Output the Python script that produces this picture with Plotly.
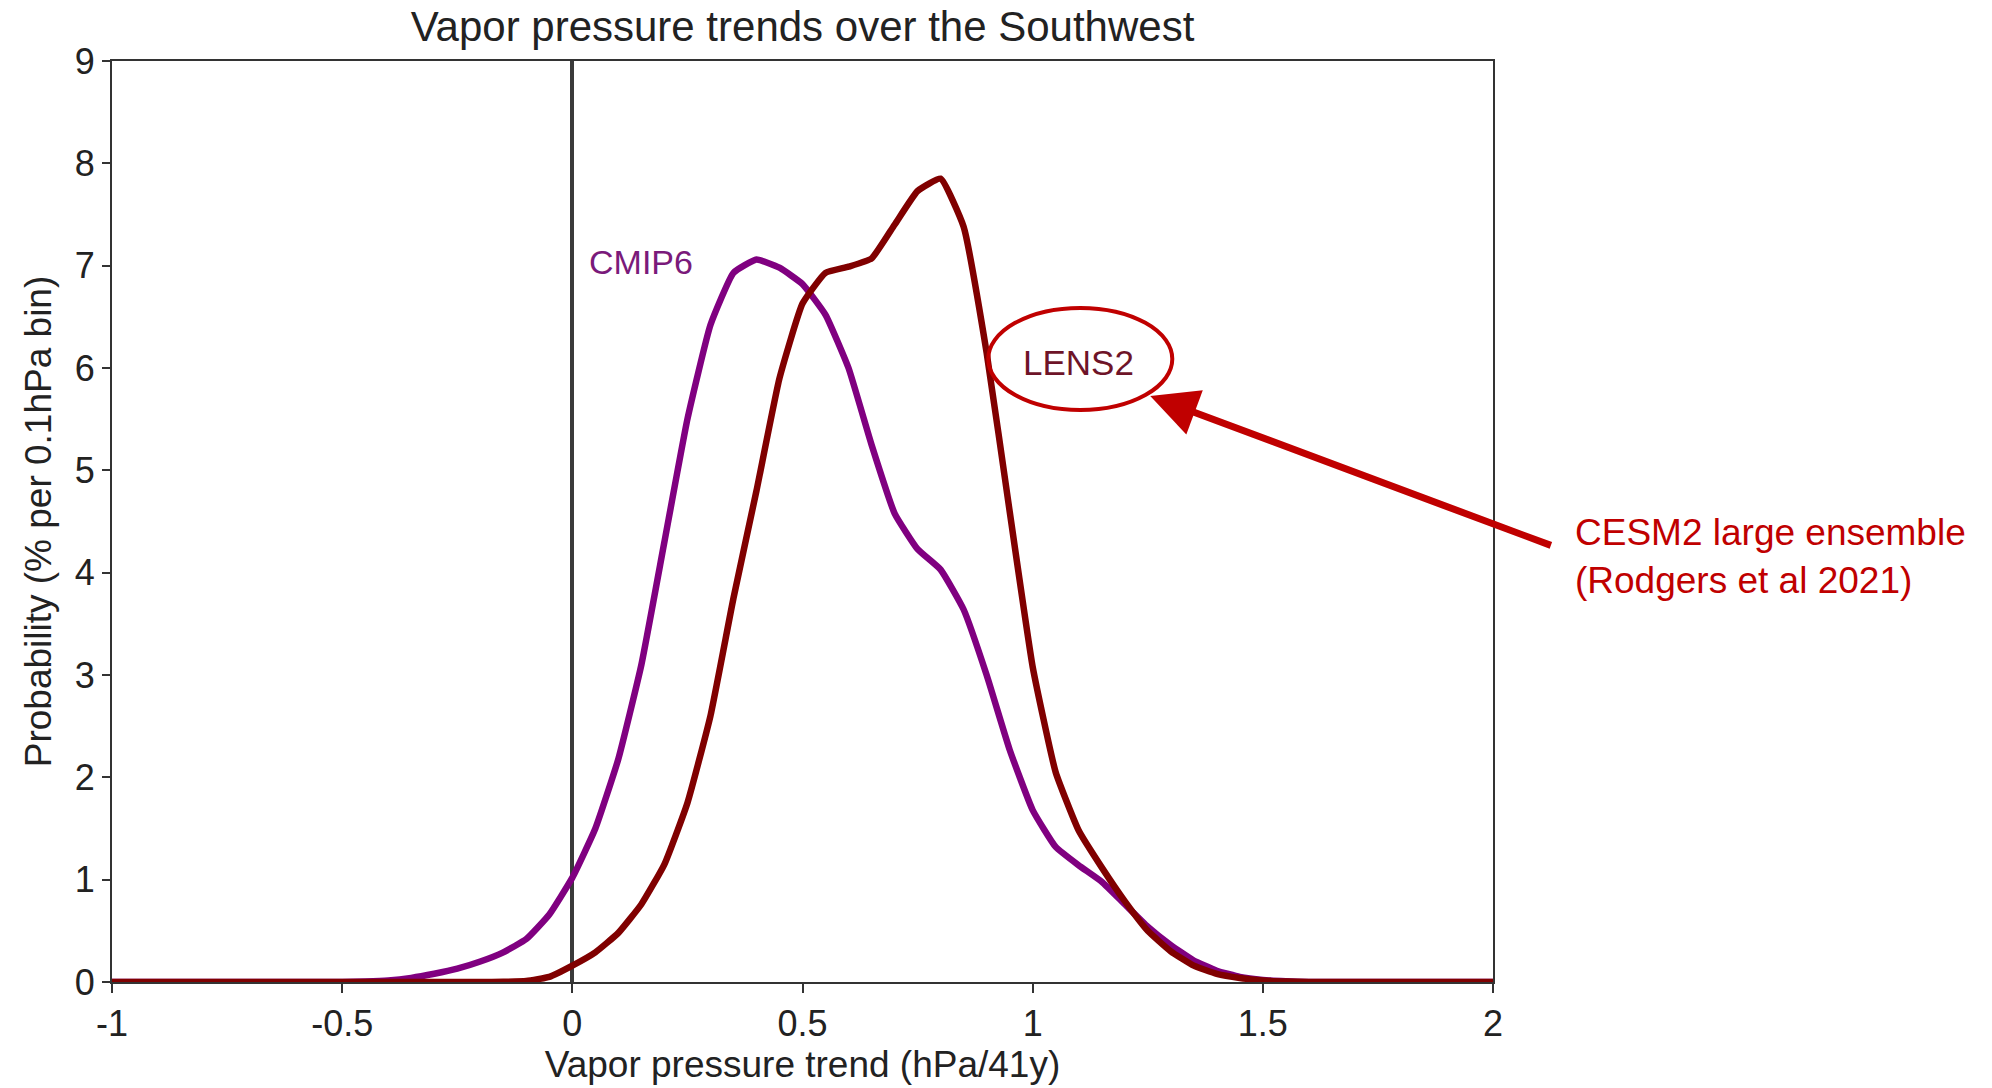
import plotly.graph_objects as go

# Bin centres (hPa/41y)
trend_bins = [-1.00, -0.95, -0.90, -0.85, -0.80, -0.75, -0.70, -0.65, -0.60, -0.55,
              -0.50, -0.45, -0.40, -0.35, -0.30, -0.25, -0.20, -0.15, -0.10, -0.05,
              0.00, 0.05, 0.10, 0.15, 0.20, 0.25, 0.30, 0.35, 0.40, 0.45,
              0.50, 0.55, 0.60, 0.65, 0.70, 0.75, 0.80, 0.85, 0.90, 0.95,
              1.00, 1.05, 1.10, 1.15, 1.20, 1.25, 1.30, 1.35, 1.40, 1.45,
              1.50, 1.55, 1.60, 1.65, 1.70, 1.75, 1.80, 1.85, 1.90, 1.95, 2.00]

cmip6_prob = [0, 0, 0, 0, 0, 0, 0, 0, 0, 0,
              0, 0.005, 0.015, 0.04, 0.08, 0.13, 0.20, 0.29, 0.42, 0.66,
              1.02, 1.50, 2.18, 3.10, 4.30, 5.50, 6.42, 6.93, 7.06, 6.98,
              6.82, 6.52, 6.00, 5.25, 4.58, 4.23, 4.03, 3.64, 3.00, 2.27,
              1.68, 1.32, 1.14, 0.98, 0.76, 0.54, 0.36, 0.21, 0.11, 0.05,
              0.02, 0.008, 0, 0, 0, 0, 0, 0, 0, 0, 0]

lens2_prob = [0, 0, 0, 0, 0, 0, 0, 0, 0, 0,
              0, 0, 0, 0, 0, 0, 0, 0.002, 0.01, 0.05,
              0.16, 0.29, 0.48, 0.76, 1.15, 1.75, 2.60, 3.75, 4.80, 5.90,
              6.63, 6.93, 6.99, 7.07, 7.40, 7.73, 7.85, 7.38, 6.15, 4.60,
              3.08, 2.05, 1.48, 1.12, 0.79, 0.50, 0.30, 0.16, 0.08, 0.04,
              0.015, 0.005, 0, 0, 0, 0, 0, 0, 0, 0, 0]

x_tick_vals = [-1, -0.5, 0, 0.5, 1, 1.5, 2]
x_tick_text = ["-1", "-0.5", "0", "0.5", "1", "1.5", "2"]
y_tick_vals = [0, 1, 2, 3, 4, 5, 6, 7, 8, 9]

FONT = "Liberation Sans, Arial, sans-serif"
PURPLE = "#800080"
MAROON = "#800000"
RED = "#c00000"

fig = go.Figure()
fig.add_trace(go.Scatter(x=trend_bins, y=cmip6_prob, mode="lines", name="CMIP6",
                         line=dict(color=PURPLE, width=6.5, shape="spline", smoothing=0.4),
                         cliponaxis=False))
fig.add_trace(go.Scatter(x=trend_bins, y=lens2_prob, mode="lines", name="LENS2",
                         line=dict(color=MAROON, width=6.5, shape="spline", smoothing=0.4),
                         cliponaxis=False))

# LENS2 highlight ellipse
fig.add_shape(type="circle", xref="x", yref="y", x0=0.9035, x1=1.3033, y0=5.59, y1=6.587,
              line=dict(color=RED, width=4), layer="above")

fig.add_annotation(x=0.15, y=7.036, xref="x", yref="y", text="CMIP6", showarrow=False,
                   font=dict(family=FONT, size=34, color="#7a1a7a"))
fig.add_annotation(x=1.099, y=6.049, xref="x", yref="y", text="LENS2", showarrow=False,
                   font=dict(family=FONT, size=35, color="#6e1428"))

# Arrow
fig.add_annotation(x=1.2555, y=5.727, xref="x", yref="y", ax=2.129, ay=4.261,
                   axref="x", ayref="y", text="", showarrow=True,
                   arrowhead=2, arrowsize=1.35, arrowwidth=7, arrowcolor=RED)
fig.add_annotation(x=1.058, y=0.4625, xref="paper", yref="paper", xanchor="left",
                   yanchor="middle", align="left", showarrow=False,
                   text="CESM2 large ensemble<br>(Rodgers et al 2021)",
                   font=dict(family=FONT, size=37, color=RED))

fig.update_layout(
    width=1992, height=1088,
    margin=dict(l=112, r=499, t=61, b=106),
    paper_bgcolor="white", plot_bgcolor="white",
    showlegend=False,
    font=dict(family=FONT, color="#222222"),
    title=dict(text="Vapor pressure trends over the Southwest", x=0.5, xref="paper",
               y=1 - 26 / 1088, yref="container", yanchor="middle", xanchor="center",
               font=dict(family=FONT, size=42, color="#222222")),
)

fig.update_xaxes(range=[-1, 2], tickvals=x_tick_vals, ticktext=x_tick_text,
                 ticks="outside", ticklen=9, tickwidth=1.5, tickcolor="#333333",
                 showline=True, linecolor="#333333", linewidth=2, mirror=True,
                 showgrid=False, zeroline=True, zerolinecolor="#3a3a3a", zerolinewidth=4,
                 tickfont=dict(family=FONT, size=36, color="#222222"),
                 title=dict(text="Vapor pressure trend (hPa/41y)", standoff=8,
                            font=dict(family=FONT, size=37, color="#222222")),
                 automargin=False)
fig.update_yaxes(range=[0, 9], tickvals=y_tick_vals,
                 ticks="outside", ticklen=8, tickwidth=1.5, tickcolor="#333333",
                 showline=True, linecolor="#333333", linewidth=2, mirror=True,
                 showgrid=False, zeroline=False,
                 tickfont=dict(family=FONT, size=36, color="#222222"),
                 title=dict(text="Probability (% per 0.1hPa bin)", standoff=12,
                            font=dict(family=FONT, size=37, color="#222222")),
                 automargin=False)

fig.write_html("out.html")
